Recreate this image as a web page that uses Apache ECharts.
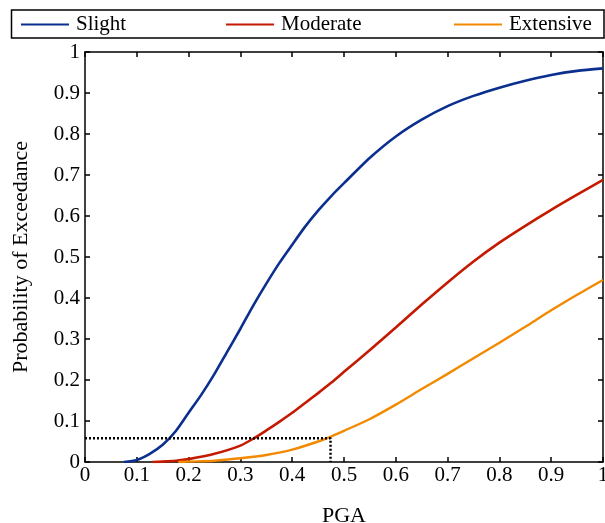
<!DOCTYPE html>
<html>
<head>
<meta charset="utf-8">
<script src="https://cdn.jsdelivr.net/npm/echarts@6/dist/echarts.min.js"></script>
<style>html,body{margin:0;padding:0;background:#fff;overflow:hidden}#c{width:605px;height:523px}</style>
</head>
<body>
<div id="c"></div>
<script>
var seriesNames = ['Slight', 'Moderate', 'Extensive'];
var slight = [[0.075,0],[0.1,0.005],[0.125,0.02],[0.15,0.042],[0.175,0.075],[0.2,0.12],[0.225,0.165],[0.25,0.215],[0.275,0.27],[0.3,0.325],[0.325,0.382],[0.35,0.435],[0.375,0.485],[0.4,0.53],[0.425,0.574],[0.45,0.613],[0.475,0.648],[0.5,0.68],[0.55,0.742],[0.6,0.794],[0.65,0.835],[0.7,0.868],[0.75,0.893],[0.8,0.913],[0.85,0.93],[0.9,0.944],[0.95,0.954],[1.0,0.96]];
var moderate = [[0.13,0],[0.15,0.001],[0.175,0.003],[0.2,0.007],[0.25,0.02],[0.3,0.04],[0.325,0.057],[0.35,0.077],[0.375,0.098],[0.4,0.12],[0.425,0.144],[0.45,0.168],[0.475,0.193],[0.5,0.22],[0.55,0.273],[0.6,0.328],[0.65,0.384],[0.7,0.438],[0.75,0.489],[0.8,0.535],[0.85,0.576],[0.9,0.615],[0.95,0.652],[1.0,0.688]];
var extensive = [[0.18,0],[0.2,0.001],[0.25,0.003],[0.3,0.009],[0.35,0.017],[0.4,0.03],[0.45,0.05],[0.475,0.062],[0.5,0.076],[0.55,0.105],[0.6,0.14],[0.65,0.178],[0.7,0.215],[0.75,0.253],[0.8,0.291],[0.85,0.33],[0.9,0.37],[0.95,0.408],[1.0,0.444]];
var guide = [[0,0.058],[0.474,0.058],[0.474,0]];
var xTicks = [0,0.1,0.2,0.3,0.4,0.5,0.6,0.7,0.8,0.9,1];
var yTicks = [0,0.1,0.2,0.3,0.4,0.5,0.6,0.7,0.8,0.9,1];

var FONT = 'Liberation Serif';
var colors = ['#0a2f8f', '#c41a00', '#f28a00'];
var chart = echarts.init(document.getElementById('c'), null, {renderer: 'canvas'});

function axisBase(extra) {
  var a = {
    min: 0, max: 1, interval: 0.1,
    axisLine: {show: true, onZero: false, lineStyle: {color: '#000', width: 1.5}},
    axisTick: {show: true, inside: true, length: 5, lineStyle: {color: '#000', width: 1.5}},
    splitLine: {show: false},
    axisLabel: {show: false}
  };
  for (var k in extra) a[k] = extra[k];
  return a;
}

var legendLeft = [21, 226, 454];
var option = {
  backgroundColor: '#fff',
  animation: false,
  grid: {left: 85, right: 2, top: 52, bottom: 61, containLabel: false, outerBoundsMode: 'none'},
  legend: [0,1,2].map(function(i){
    return {
      data: [seriesNames[i]],
      left: legendLeft[i], top: 14,
      itemWidth: 48, itemHeight: 12, itemGap: 0,
      textStyle: {fontFamily: FONT, fontSize: 21, color: '#000', padding: [0,0,0,2]},
      icon: 'path://M0,5 L48,5 L48,7 L0,7 Z',
      padding: 0
    };
  }),
  graphic: [{
    type: 'rect', shape: {x: 11.5, y: 10, width: 592.5, height: 28},
    style: {fill: 'none', stroke: '#000', lineWidth: 1.5}, z: -1
  }],
  xAxis: [
    axisBase({type: 'value', position: 'bottom',
      name: 'PGA', nameLocation: 'middle', nameGap: 43,
      nameTextStyle: {fontFamily: FONT, fontSize: 22, color: '#000'},
      axisLabel: {show: true, fontFamily: FONT, fontSize: 21, color: '#000', margin: 3,
        customValues: xTicks, formatter: function(v){return String(+v.toFixed(1));}}}),
    axisBase({type: 'value', position: 'top'})
  ],
  yAxis: [
    axisBase({type: 'value', position: 'left',
      name: 'Probability of Exceedance', nameLocation: 'middle', nameGap: 53,
      nameTextStyle: {fontFamily: FONT, fontSize: 22, color: '#000'},
      axisLabel: {show: true, fontFamily: FONT, fontSize: 21, color: '#000', margin: 5,
        customValues: yTicks, formatter: function(v){return String(+v.toFixed(1));}}}),
    axisBase({type: 'value', position: 'right'})
  ],
  series: [
    {name: seriesNames[0], type: 'line', data: slight, smooth: 0.25, showSymbol: false, symbol: 'none', lineStyle: {color: colors[0], width: 2.6}, itemStyle: {color: colors[0]}, z: 3},
    {name: seriesNames[1], type: 'line', data: moderate, smooth: 0.25, showSymbol: false, symbol: 'none', lineStyle: {color: colors[1], width: 2.6}, itemStyle: {color: colors[1]}, z: 3},
    {name: seriesNames[2], type: 'line', data: extensive, smooth: 0.25, showSymbol: false, symbol: 'none', lineStyle: {color: colors[2], width: 2.4}, itemStyle: {color: colors[2]}, z: 3},
    {name: 'guide', type: 'line', data: guide, showSymbol: false, symbol: 'none', lineStyle: {color: '#000', width: 2.5, type: [2, 2]}, z: 4}
  ]
};
chart.setOption(option);
</script>
</body>
</html>
